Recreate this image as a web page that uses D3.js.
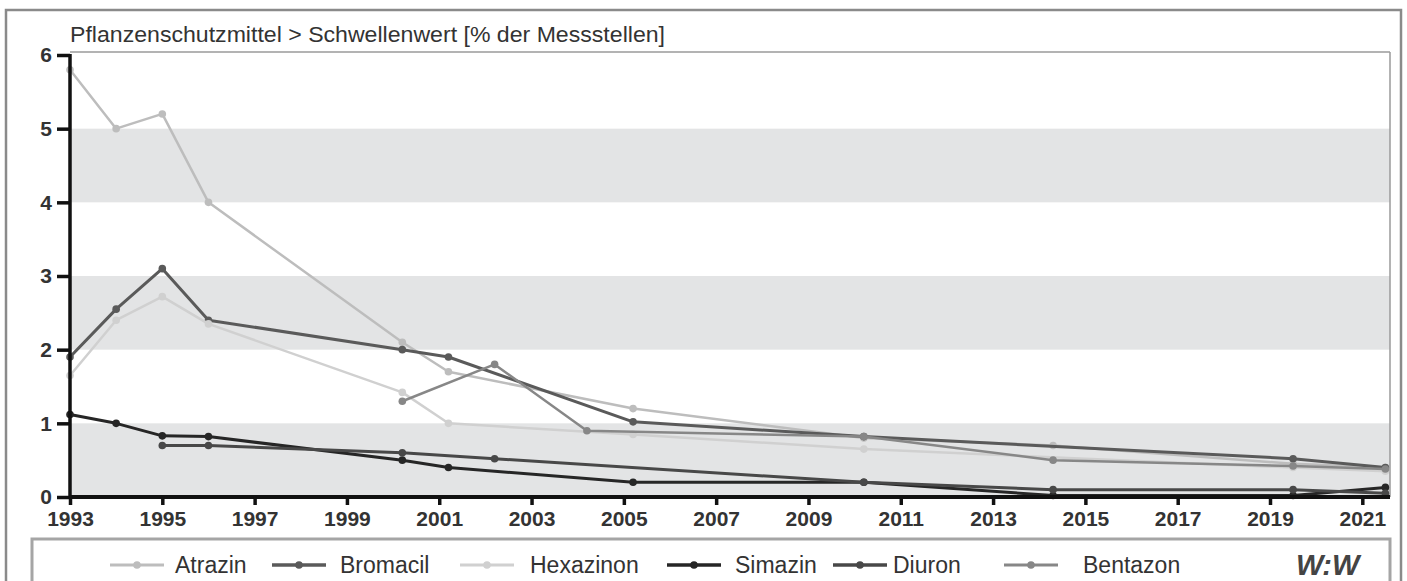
<!DOCTYPE html>
<html>
<head>
<meta charset="utf-8">
<script src="https://cdn.jsdelivr.net/npm/d3@7"></script>
<style>
  body { margin: 0; background: #fff; }
  svg { display: block; }
</style>
</head>
<body>
<script>
var years = [1993, 1994, 1995, 1996, 2000.2, 2001.2, 2002.2, 2004.2, 2005.2, 2010.2, 2014.3, 2019.5, 2021.5];
var atrazin   = [5.8, 5.0, 5.2, 4.0, 2.1, 1.7, null, null, 1.2, 0.8, 0.7, 0.45, 0.4];
var bromacil  = [1.9, 2.55, 3.1, 2.4, 2.0, 1.9, null, null, 1.02, 0.82, null, 0.52, 0.4];
var hexazinon = [1.65, 2.4, 2.72, 2.35, 1.42, 1.0, null, null, 0.85, 0.65, null, 0.4, 0.35];
var simazin   = [1.12, 1.0, 0.83, 0.82, 0.5, 0.4, null, null, 0.2, 0.2, 0.02, 0.02, 0.13];
var diuron    = [null, null, 0.7, 0.7, 0.6, null, 0.52, null, null, 0.2, 0.1, 0.1, 0.05];
var bentazon  = [null, null, null, null, 1.3, null, 1.8, 0.9, null, 0.82, 0.5, 0.42, 0.38];
var seriesNames = ["Atrazin", "Bromacil", "Hexazinon", "Simazin", "Diuron", "Bentazon"];
var seriesValues = [atrazin, bromacil, hexazinon, simazin, diuron, bentazon];
var xTicks = [1993, 1995, 1997, 1999, 2001, 2003, 2005, 2007, 2009, 2011, 2013, 2015, 2017, 2019, 2021];
var yTicks = [0, 1, 2, 3, 4, 5, 6];
var bands = [[0, 1], [2, 3], [4, 5]];

var colors = ["#bdbdbd", "#5a5a5a", "#d0d0d0", "#262626", "#484848", "#878787"];
var widths = [2.5, 3, 2.5, 3, 3, 2.5];

var W = 1407, H = 581;
var svg = d3.select("body").append("svg").attr("width", W).attr("height", H);

// outer frame
svg.append("rect").attr("x", 6).attr("y", 10).attr("width", 1395).attr("height", 600)
  .attr("fill", "#fff").attr("stroke", "#8a8a8a").attr("stroke-width", 2.5);

var x = d3.scaleLinear().domain([1993, 2021.6]).range([70, 1390]);
var y = d3.scaleLinear().domain([0, 6]).range([497, 55]);

// grey bands
svg.selectAll("rect.band").data(bands).enter().append("rect")
  .attr("class", "band")
  .attr("x", x(1993)).attr("width", x(2021.6) - x(1993))
  .attr("y", function(d) { return y(d[1]); })
  .attr("height", function(d) { return y(d[0]) - y(d[1]); })
  .attr("fill", "#e3e4e5");

// top and right frame of plot
svg.append("line").attr("x1", x(1993)).attr("x2", x(2021.6)).attr("y1", 52).attr("y2", 52)
  .attr("stroke", "#9a9a9a").attr("stroke-width", 1.5);
svg.append("line").attr("x1", x(2021.6)).attr("x2", x(2021.6)).attr("y1", 52).attr("y2", y(0))
  .attr("stroke", "#9a9a9a").attr("stroke-width", 1.5);

// title
svg.append("text").attr("x", 70).attr("y", 42)
  .attr("font-family", "Liberation Sans").attr("font-size", 22).attr("fill", "#333")
  .attr("textLength", 595).attr("lengthAdjust", "spacingAndGlyphs")
  .text("Pflanzenschutzmittel > Schwellenwert [% der Messstellen]");

// series
var line = d3.line()
  .defined(function(d) { return d.v != null; })
  .x(function(d) { return x(d.t); })
  .y(function(d) { return y(d.v); });

seriesValues.forEach(function(vals, i) {
  var pts = years.map(function(t, j) { return {t: t, v: vals[j]}; })
    .filter(function(d) { return d.v != null; });
  var g = svg.append("g");
  g.append("path").datum(pts).attr("d", line)
    .attr("fill", "none").attr("stroke", colors[i]).attr("stroke-width", widths[i])
    .attr("stroke-linejoin", "round");
  g.selectAll("circle").data(pts).enter().append("circle")
    .attr("cx", function(d) { return x(d.t); })
    .attr("cy", function(d) { return y(d.v); })
    .attr("r", 3.8).attr("fill", colors[i]);
});

// axes
var yAxis = d3.axisLeft(y).tickValues(yTicks).tickSize(13).tickPadding(5).tickFormat(d3.format("d"));
var gy = svg.append("g").attr("transform", "translate(" + x(1993) + ",0)").call(yAxis);
gy.select(".domain").attr("stroke", "#111").attr("stroke-width", 3.5).attr("d", "M0," + (y(6) - 1) + "V" + y(0));
gy.selectAll(".tick line").attr("stroke", "#111").attr("stroke-width", 3.5);
gy.selectAll(".tick text").attr("font-family", "Liberation Sans").attr("font-size", 21)
  .attr("font-weight", "bold").attr("fill", "#333");

var xAxis = d3.axisBottom(x).tickValues(xTicks).tickSize(8).tickPadding(6).tickFormat(d3.format("d"));
var gx = svg.append("g").attr("transform", "translate(0," + y(0) + ")").call(xAxis);
gx.select(".domain").attr("stroke", "#111").attr("stroke-width", 4).attr("d", "M" + x(1993) + ",0H" + x(2021.6));
gx.selectAll(".tick line").attr("stroke", "#111").attr("stroke-width", 3.5);
gx.selectAll(".tick text").attr("font-family", "Liberation Sans").attr("font-size", 21)
  .attr("font-weight", "bold").attr("fill", "#333");

// legend
svg.append("rect").attr("x", 32).attr("y", 539).attr("width", 1358).attr("height", 60)
  .attr("fill", "#fff").attr("stroke", "#a5a5a5").attr("stroke-width", 3);
var legX = [110, 272, 460, 667, 833, 1004];
var legText = [175, 340, 530, 735, 893, 1083];
var ly = 565;
seriesNames.forEach(function(name, i) {
  svg.append("line").attr("x1", legX[i]).attr("x2", legX[i] + 54).attr("y1", ly).attr("y2", ly)
    .attr("stroke", colors[i]).attr("stroke-width", widths[i] + 0.5);
  svg.append("circle").attr("cx", legX[i] + 27).attr("cy", ly).attr("r", 3.8).attr("fill", colors[i]);
  svg.append("text").attr("x", legText[i]).attr("y", ly + 8)
    .attr("font-family", "Liberation Sans").attr("font-size", 23).attr("fill", "#333")
    .text(name);
});
svg.append("text").attr("x", 1296).attr("y", ly + 10)
  .attr("font-family", "Liberation Sans").attr("font-size", 29).attr("font-weight", "bold")
  .attr("font-style", "italic").attr("fill", "#444").text("W:W");
</script>
</body>
</html>
